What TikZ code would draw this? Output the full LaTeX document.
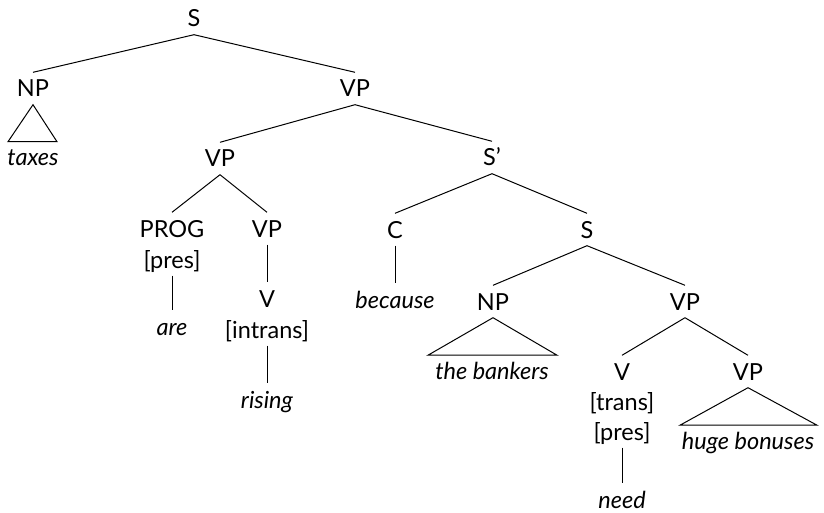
\documentclass[tikz,border=0pt]{standalone}
\usepackage{fontspec}
\setmainfont{Lato}
\begin{document}
\begin{tikzpicture}[x=1pt,y=-1pt,
  lbl/.style={anchor=base,inner xsep=0pt,inner ysep=7.5pt,text height=17pt,text depth=0pt,font=\fontsize{23.5}{27}\selectfont},
  wrd/.style={lbl,font=\fontsize{23.5}{27}\selectfont\itshape},
  edge/.style={line width=1pt}]
\useasboundingbox (0,0) rectangle (824,513);
% nodes
\node[lbl] (S) at (194,27) {S};
\node[lbl] (NPa) at (33,97) {NP};
\node[lbl] (VPa) at (355,97) {VP};
\node[wrd] (taxes) at (33,166) {taxes};
\node[lbl] (VPb) at (220,167) {VP};
\node[lbl] (Sbar) at (492,166) {S’};
\node[lbl] (PROG) at (172,237) {PROG};
\node[lbl] (PROGf) at (172,268) {[pres]};
\node[wrd] (are) at (172,335) {are};
\node[lbl] (VPc) at (267,237) {VP};
\node[lbl] (Va) at (267,307) {V};
\node[lbl] (Vaf) at (267,338) {[intrans]};
\node[wrd] (rising) at (267,408) {rising};
\node[lbl] (C) at (395,238) {C};
\node[wrd] (because) at (395,308) {because};
\node[lbl] (Sb) at (587,238) {S};
\node[lbl] (NPb) at (493,310) {NP};
\node[wrd] (bankers) at (492,379) {the bankers};
\node[lbl] (VPd) at (685,310) {VP};
\node[lbl] (Vb) at (622,380) {V};
\node[lbl] (Vbf) at (622,410) {[trans]};
\node[lbl] (Vbg) at (622,440) {[pres]};
\node[wrd] (need) at (622,508) {need};
\node[lbl] (VPe) at (748,380) {VP};
\node[wrd] (bonuses) at (748,449) {huge bonuses};
% connectors
\draw[edge] (S.south) -- (NPa.north);
\draw[edge] (S.south) -- (VPa.north);
\draw[edge] (NPa.south) -- ++(-25,37) -- ++(49,0) -- cycle;
\draw[edge] (VPa.south) -- (VPb.north);
\draw[edge] (VPa.south) -- (Sbar.north);
\draw[edge] (VPb.south) -- (PROG.north);
\draw[edge] (VPb.south) -- (VPc.north);
\draw[edge] (PROGf.south) -- (are.north);
\draw[edge] (VPc.south) -- (Va.north);
\draw[edge] (Vaf.south) -- (rising.north);
\draw[edge] (Sbar.south) -- (C.north);
\draw[edge] (Sbar.south) -- (Sb.north);
\draw[edge] (C.south) -- (because.north);
\draw[edge] (Sb.south) -- (NPb.north);
\draw[edge] (Sb.south) -- (VPd.north);
\draw[edge] (NPb.south) -- ++(-65,37.5) -- ++(129,0) -- cycle;
\draw[edge] (VPd.south) -- (Vb.north);
\draw[edge] (VPd.south) -- (VPe.north);
\draw[edge] (Vbg.south) -- (need.north);
\draw[edge] (VPe.south) -- ++(-68,37.5) -- ++(137,0) -- cycle;
\end{tikzpicture}
\end{document}
